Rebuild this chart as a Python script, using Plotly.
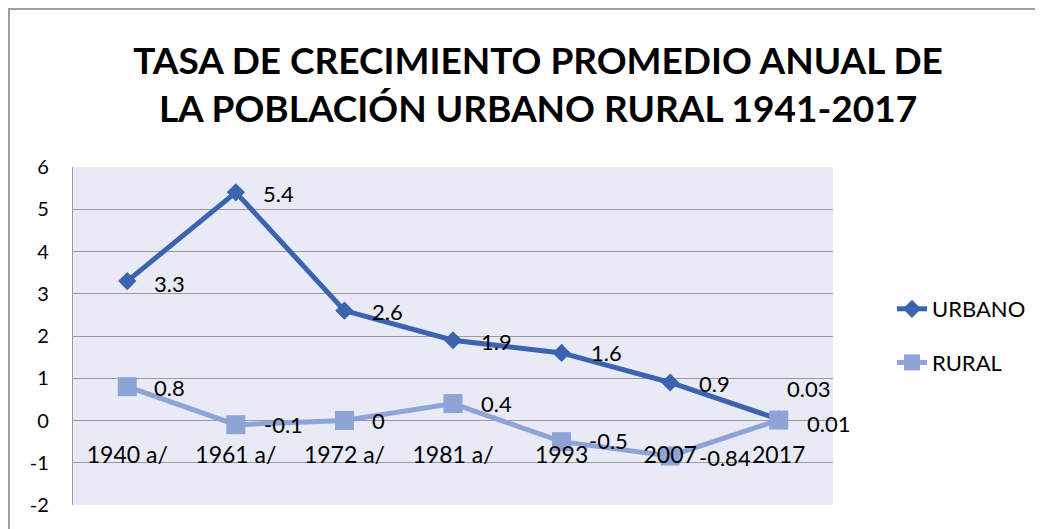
import plotly.graph_objects as go

categories = ["1940 a/", "1961 a/", "1972 a/", "1981 a/", "1993", "2007", "2017"]
urbano = [3.3, 5.4, 2.6, 1.9, 1.6, 0.9, 0.03]
rural = [0.8, -0.1, 0, 0.4, -0.5, -0.84, 0.01]
y_ticks = [-2, -1, 0, 1, 2, 3, 4, 5, 6]

FONT = "Lato"
URB_COLOR = "#3C63AE"
RUR_COLOR = "#8EA3D6"

# label offsets (pixels) for data labels, styling only
urb_xshift = [25, 25, 26, 26, 27, 27, 6]
urb_yshift = [-2, -1, -1, -1, 0, -1, 31]
rur_xshift = [25, 26, 26, 26, 25, 27, 26]
rur_yshift = [-1, 0, 0, 0, 1, -2, -3]

fig = go.Figure()
fig.add_trace(go.Scatter(
    x=categories, y=urbano, name="URBANO", mode="lines+markers",
    line=dict(color=URB_COLOR, width=5),
    marker=dict(symbol="diamond", size=14, color=URB_COLOR),
    legendgroup="u", cliponaxis=False,
))
fig.add_trace(go.Scatter(
    x=categories, y=rural, name="RURAL", mode="lines+markers",
    line=dict(color=RUR_COLOR, width=5),
    marker=dict(symbol="square", size=19, color=RUR_COLOR),
    legendgroup="r", cliponaxis=False,
))

annotations = []
for vals, xs, ys in ((urbano, urb_xshift, urb_yshift), (rural, rur_xshift, rur_yshift)):
    for i, (v, dx, dy) in enumerate(zip(vals, xs, ys)):
        annotations.append(dict(
            x=i, y=v, xref="x", yref="y", text=str(v), showarrow=False,
            xanchor="left", yanchor="middle", xshift=dx, yshift=dy,
            font=dict(family=FONT, size=22, color="#000000"),
        ))

W, H = 1035, 521
fig.update_layout(
    width=W, height=H,
    margin=dict(l=65, r=210, t=159, b=24),
    paper_bgcolor="#FFFFFF",
    plot_bgcolor="#E8EAF5",
    font=dict(family=FONT, size=20, color="#000000"),
    title=dict(
        text="<b>TASA DE CRECIMIENTO PROMEDIO ANUAL DE<br>LA POBLACIÓN URBANO RURAL 1941-2017</b>",
        font=dict(family=FONT, size=37, color="#000000"),
        x=530 / W, xanchor="center", xref="container",
        y=1 - 66 / H, yanchor="top", yref="container",
    ),
    xaxis=dict(
        type="category", range=[-0.5, 6.5],
        anchor="free", position=0.25,
        showgrid=False, zeroline=False, showline=False,
        ticks="outside", ticklen=14, tickcolor="rgba(0,0,0,0)",
        tickfont=dict(family=FONT, size=23),
    ),
    yaxis=dict(
        range=[-2, 6], tickvals=y_ticks, ticktext=[str(v) for v in y_ticks],
        showgrid=True, gridcolor="#9A9A9A", gridwidth=1.2,
        zeroline=False, showline=True, linecolor="#9A9A9A", linewidth=1.2,
        ticks="outside", ticklen=19, tickcolor="rgba(0,0,0,0)",
        tickfont=dict(family=FONT, size=20),
    ),
    legend=dict(
        x=1.0776, y=0.5, xanchor="left", yanchor="middle",
        font=dict(family=FONT, size=22),
        tracegroupgap=22, bgcolor="rgba(0,0,0,0)",
    ),
    annotations=annotations,
    shapes=[dict(
        type="rect", xref="paper", yref="paper",
        x0=(1 - 65) / 760, x1=1.5, y0=-0.3, y1=(497 - 1) / 338,
        line=dict(color="#A0A0A0", width=2), fillcolor="rgba(0,0,0,0)",
        layer="below",
    )],
)

fig.write_html("out.html")
